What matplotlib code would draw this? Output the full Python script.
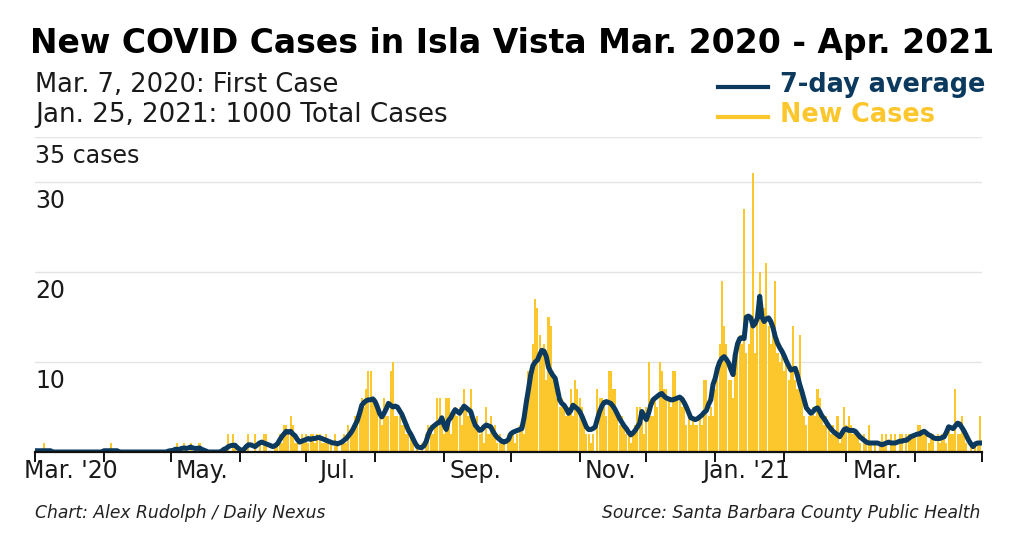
import pandas as pd
import matplotlib
matplotlib.use("Agg")
import matplotlib.pyplot as plt
import matplotlib.dates as mdates

# daily new cases, Mar 1 2020 .. Apr 30 2021 (one row per month)
new_cases = (
    [0, 0, 0, 0, 1] + [0] * 26 +
    [0, 0, 0, 1] + [0] * 26 +
    [0, 0, 0, 1, 0, 0, 1, 0, 0, 1, 0, 0, 0, 1, 0, 0, 0, 0, 0, 0, 0, 0, 0, 0, 0, 0, 2, 0, 2, 1, 0] +
    [0, 0, 0, 0, 2, 0, 0, 2, 0, 1, 0, 2, 2, 0, 0, 0, 1, 1, 2, 1, 3, 3, 2, 4, 3, 1, 1, 0, 2, 1] +
    [2, 1, 2, 2, 1, 2, 2, 1, 1, 2, 1, 1, 0, 2, 1, 0, 1, 2, 1, 3, 2, 3, 4, 3, 5, 6, 5, 7, 9, 9, 6] +
    [6, 5, 4, 3, 6, 4, 4, 9, 10, 4, 4, 4, 3, 3, 2, 2, 2, 1, 0, 1, 0, 1, 0, 2, 3, 3, 2, 3, 6, 6, 4] +
    [2, 6, 6, 2, 4, 5, 4, 5, 3, 7, 5, 4, 7, 3, 3, 4, 2, 3, 1, 5, 2, 4, 2, 3, 1, 2, 1, 1, 0, 2] +
    [2, 2, 1, 2, 3, 3, 2, 6, 9, 8, 12, 17, 16, 13, 11, 12, 8, 15, 14, 9, 8, 6, 5, 6, 5, 4, 5, 7, 4, 8, 7] +
    [6, 5, 4, 2, 2, 1, 2, 0, 7, 6, 6, 5, 4, 9, 9, 7, 7, 4, 3, 4, 3, 2, 2, 1, 2, 3, 5, 5, 4, 2] +
    [5, 10, 4, 4, 6, 5, 10, 9, 7, 7, 6, 5, 9, 9, 6, 6, 5, 6, 3, 4, 3, 4, 3, 3, 4, 3, 8, 8, 4, 5, 4] +
    [7, 8, 12, 19, 14, 12, 8, 8, 6, 10, 11, 13, 12, 27, 11, 12, 15, 31, 11, 16, 20, 15, 16, 21, 14, 12, 14, 19, 11, 10, 11] +
    [9, 10, 8, 9, 14, 8, 7, 13, 6, 4, 3, 4, 4, 5, 4, 7, 6, 4, 3, 4, 3, 2, 3, 2, 4, 1, 2, 5] +
    [3, 4, 3, 2, 2, 2, 1, 0, 2, 1, 3, 1, 0, 1, 0, 1, 2, 1, 2, 0, 2, 1, 2, 0, 2, 2, 0, 2, 2, 2, 2] +
    [2, 3, 3, 2, 2, 2, 1, 2, 2, 0, 2, 1, 2, 2, 1, 3, 2, 2, 7, 2, 2, 4, 2, 1, 0, 1, 0, 1, 1, 4]
)

# 7-day average as drawn
avg_7day = (
    [0.14] * 8 + [0] * 23 +
    [0.14] * 7 + [0] * 22 + [0.1] +
    [0.15, 0.15, 0.3, 0.3, 0.3, 0.4, 0.45, 0.4, 0.45, 0.55, 0.45, 0.4, 0.4, 0.45, 0.3, 0.2, 0.1, 0, 0, 0,
     0, 0, 0, 0.1, 0.3, 0.4, 0.6, 0.7, 0.75, 0.75, 0.5] +
    [0.3, 0.15, 0.3, 0.6, 0.8, 0.8, 0.7, 0.6, 0.8, 1.0, 1.1, 1.0, 0.9, 0.8, 0.7, 0.6, 0.7, 0.9, 1.3, 1.7,
     2.0, 2.3, 2.2, 2.3, 2.0, 1.8, 1.4, 1.1, 1.2, 1.3] +
    [1.4, 1.5, 1.4, 1.5, 1.5, 1.6, 1.6, 1.5, 1.4, 1.3, 1.2, 1.1, 1.0, 1.0, 0.9, 1.0, 1.1, 1.3, 1.5, 1.8,
     2.1, 2.5, 3.0, 3.5, 4.3, 5.2, 5.5, 5.7, 5.8, 5.8, 5.9] +
    [5.6, 5.0, 4.3, 3.9, 4.3, 4.8, 5.4, 5.2, 5.0, 5.1, 5.0, 4.6, 4.2, 3.6, 3.0, 2.4, 2.0, 1.5, 1.0, 0.6,
     0.5, 0.5, 0.7, 1.2, 2.0, 2.5, 2.8, 3.0, 3.2, 3.3, 3.8] +
    [3.0, 2.5, 3.5, 3.8, 4.3, 4.7, 4.5, 4.3, 4.7, 5.1, 4.9, 4.7, 4.5, 3.7, 3.0, 2.7, 2.4, 2.5, 2.8, 3.0,
     2.9, 2.8, 2.3, 1.9, 1.6, 1.4, 1.2, 1.1, 1.2, 1.4] +
    [2.0, 2.2, 2.3, 2.4, 2.5, 2.6, 3.8, 5.5, 7.0, 8.6, 9.6, 10.0, 10.2, 10.8, 11.3, 11.2, 10.6, 9.4, 8.9, 8.5,
     8.2, 7.0, 5.8, 5.4, 5.2, 4.8, 4.3, 4.6, 5.2, 5.0, 4.8] +
    [4.5, 4.0, 3.4, 2.8, 2.5, 2.5, 2.6, 2.8, 3.7, 4.5, 5.1, 5.5, 5.6, 5.5, 5.4, 5.1, 4.7, 4.2, 3.7, 3.3,
     2.9, 2.6, 2.2, 1.9, 2.1, 2.4, 2.8, 3.2, 4.5, 4.0] +
    [3.6, 4.3, 5.2, 5.8, 6.0, 6.2, 6.4, 6.5, 6.2, 6.0, 5.9, 5.8, 5.8, 5.9, 6.0, 6.1, 5.9, 5.5, 5.0, 4.4,
     3.8, 3.7, 3.6, 3.7, 3.9, 4.1, 4.4, 4.6, 5.3, 5.8, 7.5] +
    [8.2, 9.3, 10.0, 10.4, 10.6, 10.3, 9.9, 9.2, 8.6, 10.8, 12.0, 12.6, 12.7, 12.6, 15.0, 15.1, 14.9, 14.0, 14.3, 14.9,
     17.3, 15.0, 14.5, 14.8, 14.9, 14.5, 13.8, 12.8, 12.1, 11.6, 11.2] +
    [10.7, 10.1, 9.6, 9.1, 9.2, 9.3, 8.5, 7.5, 6.7, 5.8, 4.9, 4.6, 4.3, 4.5, 4.8, 4.9, 4.5, 4.0, 3.7, 3.3,
     2.9, 2.6, 2.3, 2.1, 1.9, 1.7, 2.1, 2.5] +
    [2.6, 2.4, 2.4, 2.4, 2.3, 2.0, 1.7, 1.5, 1.3, 1.1, 1.0, 1.0, 1.0, 1.0, 1.0, 0.9, 0.8, 0.9, 1.0, 1.1,
     1.0, 1.0, 1.0, 1.1, 1.2, 1.2, 1.3, 1.3, 1.5, 1.7, 1.8] +
    [1.9, 2.0, 2.0, 2.2, 2.3, 2.1, 1.9, 1.8, 1.6, 1.5, 1.5, 1.5, 1.6, 1.7, 2.2, 2.8, 2.7, 2.6, 2.9, 3.2,
     3.1, 2.7, 2.3, 1.8, 1.3, 0.9, 0.6, 0.9, 1.0, 1.0]
)

dates = pd.date_range("2020-03-01", periods=len(new_cases), freq="D")
assert len(avg_7day) == len(new_cases)

month_labels = ["Mar. '20", "May.", "Jul.", "Sep.", "Nov.", "Jan. '21", "Mar."]
label_dates = pd.to_datetime(["2020-03-17", "2020-05-15", "2020-07-15", "2020-09-15",
                              "2020-11-15", "2021-01-15", "2021-03-15"])
y_ticks = [10, 20, 30, 35]
y_tick_labels = ["10", "20", "30", "35 cases"]

NAVY = "#0b3a5e"
GOLD = "#fcc62d"
TEXT = "#1a1a1a"

fig = plt.figure(figsize=(10.24, 5.33), dpi=100)
ax = fig.add_axes([35 / 1024, 81 / 533, 947 / 1024, 315 / 533])

ax.bar(dates, new_cases, width=0.92, color=GOLD, linewidth=0, zorder=2)
ax.plot(dates, avg_7day, color=NAVY, lw=3.6, zorder=3, solid_joinstyle="round")

ax.set_xlim(pd.Timestamp("2020-03-01"), pd.Timestamp("2021-05-01"))
ax.set_ylim(0, 35)

for v in y_ticks:
    ax.axhline(v, color="#e4e4e4", lw=1, zorder=1)
for v, lab in zip(y_ticks, y_tick_labels):
    ax.annotate(lab, xy=(0, v), xycoords=("axes fraction", "data"), xytext=(0, -5),
                textcoords="offset points", ha="left", va="top", fontsize=17, color=TEXT)

for s in ["top", "right", "left"]:
    ax.spines[s].set_visible(False)
ax.spines["bottom"].set_linewidth(1.6)
ax.spines["bottom"].set_color("#111111")
ax.spines["bottom"].set_zorder(4)

ax.set_yticks([])
ax.xaxis.set_major_locator(mdates.MonthLocator())
ax.xaxis.set_major_formatter(plt.NullFormatter())
ax.tick_params(axis="x", which="major", length=7, width=1.4, color="#111111")
ax.set_xticks(label_dates, minor=True)
ax.set_xticklabels(month_labels, minor=True)
ax.tick_params(axis="x", which="minor", length=0, pad=5, labelsize=17, labelcolor=TEXT)

# title, notes, legend
fig.text(30 / 1024, 1 - 44 / 533, "New COVID Cases in Isla Vista Mar. 2020 - Apr. 2021",
         fontsize=23.8, fontweight="bold", color="#000000", va="center", ha="left")
fig.text(35 / 1024, 1 - 85 / 533, "Mar. 7, 2020: First Case", fontsize=18.5, color=TEXT, va="center")
fig.text(35 / 1024, 1 - 115 / 533, "Jan. 25, 2021: 1000 Total Cases", fontsize=18.8, color=TEXT, va="center")

fig.lines.append(plt.Line2D([718 / 1024, 768 / 1024], [1 - 87 / 533] * 2, color=NAVY, lw=3,
                            transform=fig.transFigure))
fig.lines.append(plt.Line2D([718 / 1024, 768 / 1024], [1 - 117 / 533] * 2, color=GOLD, lw=3,
                            transform=fig.transFigure))
fig.text(780 / 1024, 1 - 85 / 533, "7-day average", fontsize=18.4, fontweight="bold", color=NAVY, va="center")
fig.text(780 / 1024, 1 - 115 / 533, "New Cases", fontsize=18.4, fontweight="bold", color=GOLD, va="center")

fig.text(35 / 1024, 1 - 513 / 533, "Chart: Alex Rudolph / Daily Nexus", fontsize=12.3,
         style="italic", color="#222222", va="center")
fig.text(980 / 1024, 1 - 513 / 533, "Source: Santa Barbara County Public Health", fontsize=12.3,
         style="italic", color="#222222", va="center", ha="right")

fig.savefig("out.png", dpi=100)
